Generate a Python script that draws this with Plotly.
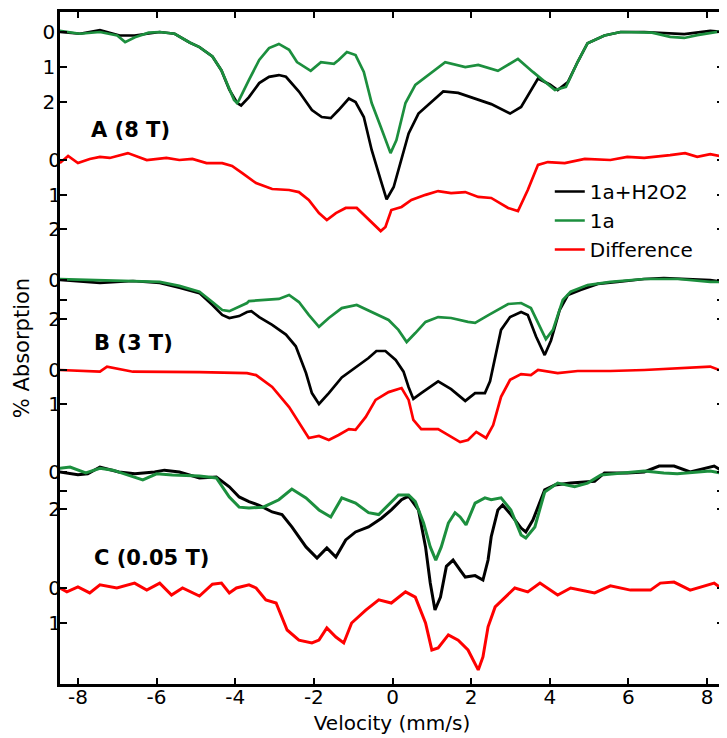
import plotly.graph_objects as go

# ---------------- data (velocity in mm/s, absorption in %) ----------------
# Panel A (8 T)
vel_A_mix = [-8.46, -7.95, -7.44, -6.94, -6.56, -5.92, -5.54, -5.16, -4.91, -4.58, -4.35, -4.15, -3.95, -3.85,
             -3.65, -3.39, -3.14, -2.89, -2.71, -2.38, -2.05, -1.80, -1.57, -1.37, -1.11, -0.94, -0.73, -0.53,
             -0.30, -0.15, 0.03, 0.23, 0.41, 0.66, 0.99, 1.29, 1.67, 2.0, 2.38, 2.51, 2.99, 3.27, 3.70, 4.0,
             4.2, 4.46, 4.71, 4.96, 5.39, 5.8, 6.4, 7.42, 8.08, 8.43]
abs_A_mix = [0.0, 0.05, -0.05, 0.1, 0.1, 0.0, 0.05, 0.3, 0.43, 0.7, 1.1, 1.65, 2.03, 2.1,
             1.86, 1.46, 1.28, 1.23, 1.28, 1.7, 2.23, 2.43, 2.46, 2.23, 1.9, 2.0, 2.43, 3.37,
             4.23, 4.78, 4.43, 3.66, 2.9, 2.33, 2.0, 1.7, 1.74, 1.86, 2.0, 2.06, 2.33, 2.14, 1.33, 1.5,
             1.66, 1.43, 0.85, 0.32, 0.1, 0.0, 0.0, 0.06, -0.03, 0.0]

vel_A_1a = [-8.46, -7.95, -7.44, -7.0, -6.8, -6.55, -6.2, -5.92, -5.54, -5.16, -4.91, -4.58, -4.35, -4.15,
            -4.03, -3.95, -3.9, -3.65, -3.39, -3.14, -2.89, -2.63, -2.43, -2.08, -1.82, -1.49, -1.37, -1.16,
            -0.94, -0.73, -0.53, -0.30, -0.05, 0.10, 0.33, 0.58, 0.91, 1.34, 1.85, 2.18, 2.68, 3.19, 3.57,
            3.87, 4.13, 4.41, 4.71, 4.96, 5.39, 5.8, 6.6, 7.06, 7.42, 7.75, 8.43]
abs_A_1a = [-0.03, 0.05, 0.0, 0.1, 0.29, 0.15, 0.02, 0.0, 0.05, 0.3, 0.43, 0.7, 1.1, 1.65,
            1.94, 2.03, 1.94, 1.37, 0.8, 0.46, 0.34, 0.51, 0.86, 1.11, 0.86, 0.91, 0.8, 0.57,
            0.66, 1.14, 2.03, 2.71, 3.46, 3.09, 2.03, 1.51, 1.23, 0.86, 1.0, 0.94, 1.11, 0.77, 1.14,
            1.43, 1.66, 1.57, 0.85, 0.32, 0.1, 0.0, 0.02, 0.14, 0.17, 0.09, -0.03]

vel_A_diff = [-8.46, -8.25, -8.0, -7.7, -7.44, -7.19, -6.73, -6.25, -5.75, -5.42, -5.09, -4.73, -4.33, -4.08,
              -3.82, -3.47, -3.06, -2.63, -2.38, -2.13, -1.87, -1.67, -1.44, -1.19, -0.91, -0.68, -0.48,
              -0.30, -0.18, -0.03, 0.23, 0.48, 0.84, 1.16, 1.49, 1.85, 2.18, 2.51, 2.94, 3.19, 3.44, 3.70,
              3.95, 4.38, 4.89, 5.54, 5.97, 6.4, 7.06, 7.44, 7.75, 8.08, 8.43]
abs_A_diff = [0.09, -0.12, 0.09, -0.03, -0.09, -0.06, -0.2, 0.0, -0.06, 0.0, -0.03, 0.09, 0.09, 0.17,
              0.38, 0.67, 0.84, 0.87, 0.93, 1.16, 1.54, 1.74, 1.54, 1.39, 1.39, 1.65, 1.88,
              2.06, 1.94, 1.45, 1.36, 1.16, 1.01, 0.9, 0.96, 0.93, 1.07, 1.1, 1.39, 1.48, 0.87, 0.14,
              0.06, 0.09, -0.03, 0.0, -0.09, -0.06, -0.14, -0.2, -0.09, -0.17, -0.09]

# Panel B (3 T)
vel_B_mix = [-8.46, -7.44, -6.6, -5.92, -5.42, -4.91, -4.58, -4.33, -4.15, -3.9, -3.7, -3.59, -3.39, -3.06,
             -2.71, -2.46, -2.2, -2.05, -1.87, -1.62, -1.29, -0.94, -0.61, -0.41, -0.18, 0.08, 0.28, 0.41,
             0.53, 0.73, 1.16, 1.49, 1.85, 2.10, 2.35, 2.48, 2.56, 2.76, 2.99, 3.27, 3.44, 3.65, 3.87, 4.03,
             4.25, 4.46, 4.78, 5.22, 5.72, 6.4, 6.9, 8.08, 8.43]
abs_B_mix = [0.0, 0.15, 0.05, 0.15, 0.4, 0.67, 1.28, 1.79, 1.95, 1.85, 1.64, 1.6, 1.9, 2.3,
             2.8, 3.4, 4.77, 5.8, 6.36, 5.8, 5.0, 4.5, 4.0, 3.64, 3.64, 4.1, 4.7, 5.5,
             6.1, 5.8, 5.2, 5.6, 6.2, 5.8, 5.8, 5.2, 4.46, 2.56, 1.9, 1.64, 1.79, 2.9, 3.85, 3.1,
             1.54, 0.77, 0.51, 0.2, 0.1, -0.05, -0.1, 0.0, 0.1]

vel_B_1a = [-8.46, -6.6, -5.92, -5.42, -4.91, -4.58, -4.33, -4.15, -3.9, -3.7, -3.65, -3.22, -2.89, -2.63,
            -2.38, -2.13, -1.87, -1.62, -1.29, -0.91, -0.53, -0.10, 0.15, 0.36, 0.58, 0.84, 1.16, 1.49,
            1.92, 2.10, 2.45, 2.94, 3.27, 3.52, 3.75, 3.9, 4.08, 4.33, 4.53, 4.96, 5.54, 6.4, 7.27, 8.08, 8.43]
abs_B_1a = [-0.05, 0.05, 0.1, 0.3, 0.6, 1.13, 1.54, 1.6, 1.38, 1.18, 1.08, 1.03, 0.97, 0.77,
            1.13, 1.79, 2.4, 1.95, 1.44, 1.28, 1.64, 2.05, 2.56, 3.18, 2.72, 2.15, 1.9, 1.95,
            2.15, 2.2, 1.79, 1.23, 1.18, 1.44, 2.4, 3.03, 2.56, 1.03, 0.6, 0.26, 0.1, -0.05, -0.05, 0.1, 0.1]

vel_B_diff = [-8.46, -7.44, -7.26, -6.6, -4.91, -3.7, -3.47, -3.06, -2.63, -2.30, -2.13, -1.87, -1.62, -1.37,
              -1.11, -0.94, -0.68, -0.43, -0.10, 0.23, 0.41, 0.53, 0.73, 1.16, 1.49, 1.72, 1.92, 2.13, 2.38,
              2.56, 2.76, 2.99, 3.27, 3.52, 3.70, 4.2, 4.71, 5.54, 6.4, 7.24, 8.08, 8.43]
abs_B_diff = [0.0, 0.05, -0.1, 0.05, 0.06, 0.09, 0.15, 0.5, 1.09, 1.68, 2.0, 1.94, 2.06, 1.91,
              1.74, 1.76, 1.38, 0.88, 0.65, 0.53, 0.88, 1.47, 1.74, 1.74, 1.97, 2.12, 2.06, 1.82, 2.0,
              1.62, 0.79, 0.29, 0.12, 0.15, 0.0, 0.09, 0.03, 0.03, 0.0, -0.06, -0.1, 0.05]

# Panel C (0.05 T)
vel_C_mix = [-8.46, -8.0, -7.75, -7.44, -6.96, -6.55, -6.05, -5.8, -5.42, -4.91, -4.48, -4.15, -3.9, -3.65,
             -3.39, -3.06, -2.81, -2.56, -2.20, -1.92, -1.67, -1.44, -1.19, -0.94, -0.61, -0.28, -0.03,
             0.23, 0.41, 0.66, 0.84, 0.96, 1.08, 1.22, 1.37, 1.54, 1.72, 1.85, 2.10, 2.30, 2.43, 2.51,
             2.68, 2.8, 3.01, 3.27, 3.39, 3.57, 3.87, 4.13, 4.53, 4.89, 5.14, 5.39, 5.97, 6.4, 6.78, 7.16,
             7.57, 8.18, 8.43]
abs_C_mix = [0.0, 0.15, 0.1, -0.27, 0.0, 0.1, 0.0, -0.1, 0.0, 0.32, 0.27, 0.8, 1.35, 1.6,
             1.8, 2.16, 2.3, 2.97, 4.05, 4.65, 4.1, 4.6, 3.67, 3.24, 2.97, 2.5, 2.05,
             1.5, 1.3, 2.05, 4.05, 6.0, 7.46, 6.76, 5.1, 4.76, 5.3, 5.68, 5.6, 5.84, 4.76, 3.5,
             2.05, 1.78, 2.3, 3.03, 3.24, 2.6, 0.97, 0.7, 0.6, 0.54, 0.5, 0.05, 0.05, 0.0, -0.32, -0.32,
             0.0, -0.32, 0.0]

vel_C_1a = [-8.46, -8.2, -7.8, -7.44, -7.11, -6.76, -6.35, -6.0, -5.6, -4.91, -4.48, -4.15, -3.9, -3.65,
            -3.29, -2.89, -2.56, -2.20, -1.87, -1.57, -1.29, -0.94, -0.61, -0.35, -0.10, 0.15, 0.41, 0.58,
            0.79, 0.96, 1.10, 1.24, 1.42, 1.59, 1.72, 1.87, 2.10, 2.35, 2.51, 2.76, 3.01, 3.27, 3.39, 3.62,
            3.87, 4.2, 4.63, 4.96, 5.3, 5.8, 6.4, 6.9, 7.24, 8.08, 8.43]
abs_C_1a = [-0.2, -0.27, 0.05, -0.2, -0.1, 0.16, 0.43, 0.1, 0.16, 0.22, 0.32, 1.35, 1.9, 1.95,
            1.9, 1.5, 0.92, 1.4, 2.05, 2.43, 1.4, 1.68, 2.2, 2.3, 1.78, 1.24, 1.24, 1.6,
            2.76, 4.05, 4.76, 4.05, 2.76, 2.2, 2.43, 2.86, 1.68, 1.4, 1.5, 1.4, 2.05, 3.4, 3.57, 2.97,
            1.08, 0.6, 0.8, 0.6, 0.16, 0.05, -0.05, 0.05, 0.1, -0.05, 0.1]

vel_C_diff = [-8.46, -8.28, -8.0, -7.7, -7.44, -7.01, -6.56, -6.25, -5.92, -5.62, -5.34, -4.91, -4.58, -4.35,
              -4.15, -3.97, -3.65, -3.47, -3.22, -2.96, -2.68, -2.38, -2.05, -1.87, -1.67, -1.44, -1.24,
              -1.04, -0.68, -0.35, -0.03, 0.33, 0.58, 0.84, 1.0, 1.16, 1.42, 1.67, 1.92, 2.10, 2.18, 2.3,
              2.43, 2.61, 2.86, 3.11, 3.44, 3.75, 4.2, 4.53, 5.14, 5.54, 6.05, 6.56, 6.81, 7.16, 7.57,
              8.18, 8.43]
abs_C_diff = [0.0, 0.11, -0.03, 0.14, -0.09, 0.0, -0.14, 0.06, -0.14, 0.2, 0.0, 0.23, -0.11, -0.14,
              0.14, 0.0, -0.09, 0.0, 0.34, 0.43, 1.2, 1.49, 1.57, 1.49, 1.14, 1.4, 1.57,
              1.0, 0.63, 0.34, 0.43, 0.11, 0.26, 1.0, 1.77, 1.71, 1.34, 1.49, 1.77, 2.14, 2.34, 1.97,
              1.11, 0.54, 0.26, 0.0, 0.11, -0.14, 0.2, 0.0, 0.14, -0.06, 0.06, 0.06, -0.14, -0.17, 0.06,
              -0.14, 0.06]

series_names = ["1a+H2O2", "1a", "Difference"]
panel_labels = ["A (8 T)", "B (3 T)", "C (0.05 T)"]
x_tick_vals = [-8, -6, -4, -2, 0, 2, 4, 6, 8]
x_tick_text = ["-8", "-6", "-4", "-2", "0", "2", "4", "6", "8"]

# ---------------- layout / style ----------------
PAGE_OFF = 8                     # default body margin of the html page
VIEW_W, VIEW_H = 727, 738
W, H = VIEW_W - PAGE_OFF, VIEW_H - PAGE_OFF
PLOT_LEFT, PLOT_RIGHT, PLOT_TOP, PLOT_BOTTOM = 60, 727, 12, 684   # screen pixels
ML = PLOT_LEFT - PAGE_OFF
MR = PAGE_OFF + W - PLOT_RIGHT
MT = PLOT_TOP - PAGE_OFF
MB = PAGE_OFF + H - PLOT_BOTTOM
PLOT_W = PLOT_RIGHT - PLOT_LEFT
PLOT_H = PLOT_BOTTOM - PLOT_TOP
FONT = "DejaVu Sans"
BLACK, GREEN, RED = "#000000", "#1c8f3e", "#ff0000"


def yrange(p0, s):
    # pixel of zero, pixels per % unit -> reversed axis range
    return [(PLOT_BOTTOM - p0) / s, -(p0 - PLOT_TOP) / s]


axes_spec = [
    # (zero pixel, px per unit, tickvals, ticktext)
    (32, 35.0, [0, 1, 2], ["0", "1", "2"]),
    (160, 34.5, [0, 1, 2], ["0", "1", "2"]),
    (280, 19.5, [0, 1, 2], ["0", "", "2"]),
    (370, 34.0, [0, 1], ["0", "1"]),
    (472, 18.5, [0, 1, 2], ["0", "", "2"]),
    (588, 35.0, [0, 1], ["0", "1"]),
]

fig = go.Figure()

groups = [
    ("y", vel_A_mix, abs_A_mix, BLACK, 2.7), ("y", vel_A_1a, abs_A_1a, GREEN, 2.7),
    ("y2", vel_A_diff, abs_A_diff, RED, 2.7),
    ("y3", vel_B_mix, abs_B_mix, BLACK, 2.7), ("y3", vel_B_1a, abs_B_1a, GREEN, 2.7),
    ("y4", vel_B_diff, abs_B_diff, RED, 2.7),
    ("y5", vel_C_mix, abs_C_mix, BLACK, 3.0), ("y5", vel_C_1a, abs_C_1a, GREEN, 3.0),
    ("y6", vel_C_diff, abs_C_diff, RED, 3.0),
]
for yref, xs, ys, col, lw in groups:
    fig.add_trace(go.Scatter(x=xs, y=ys, mode="lines", yaxis=yref, xaxis="x",
                             line=dict(color=col, width=lw), showlegend=False,
                             hoverinfo="skip"))

# legend entries
for name, col in zip(series_names, [BLACK, GREEN, RED]):
    fig.add_trace(go.Scatter(x=[None], y=[None], mode="lines", name=name,
                             line=dict(color=col, width=2.5), showlegend=True))

layout = dict(
    width=W, height=H, autosize=False,
    margin=dict(l=ML, r=MR, t=MT, b=MB, pad=0),
    paper_bgcolor="white", plot_bgcolor="white",
    font=dict(family=FONT, size=20, color="black"),
    showlegend=True,
    legend=dict(x=(552 - PLOT_LEFT) / PLOT_W, y=(PLOT_BOTTOM - 172) / PLOT_H,
                xanchor="left", yanchor="top", bgcolor="rgba(0,0,0,0)",
                font=dict(family=FONT, size=20), itemwidth=30, tracegroupgap=0),
    xaxis=dict(range=[-8.456, 8.43], tickvals=x_tick_vals, ticktext=x_tick_text,
               ticks="inside", ticklen=6, tickwidth=2, tickcolor="black",
               showline=True, linewidth=2.5, linecolor="black", mirror="ticks",
               showgrid=False, zeroline=False, ticklabelstandoff=-7,
               tickfont=dict(family=FONT, size=20),
               title=dict(text="Velocity (mm/s)", font=dict(family=FONT, size=20), standoff=9)),
)

for i, (p0, s, tv, tt) in enumerate(axes_spec):
    key = "yaxis" if i == 0 else f"yaxis{i + 1}"
    ax = dict(range=yrange(p0, s), tickvals=tv, ticktext=tt, anchor="x", side="left",
              ticks="inside", ticklen=7, tickwidth=2, tickcolor="black",
              showgrid=False, zeroline=False, mirror="ticks", ticklabelstandoff=-2,
              tickfont=dict(family=FONT, size=20), domain=[0, 1])
    if i == 0:
        ax.update(showline=True, linewidth=2.5, linecolor="black",
                  title=dict(text="% Absorption", font=dict(family=FONT, size=21), standoff=8))
    else:
        ax.update(overlaying="y", showline=False)
    layout[key] = ax

fig.update_layout(**layout)

# panel labels
label_px = [(89, 130), (92, 343), (92, 558)]
for text, (px, py) in zip(panel_labels, label_px):
    fig.add_annotation(text=f"<b>{text}</b>", xref="paper", yref="paper",
                       x=(px - PLOT_LEFT) / PLOT_W, y=(PLOT_BOTTOM - py) / PLOT_H,
                       xanchor="left", yanchor="middle", showarrow=False,
                       font=dict(family=FONT, size=21, color="black"))

fig.write_html("out.html")
